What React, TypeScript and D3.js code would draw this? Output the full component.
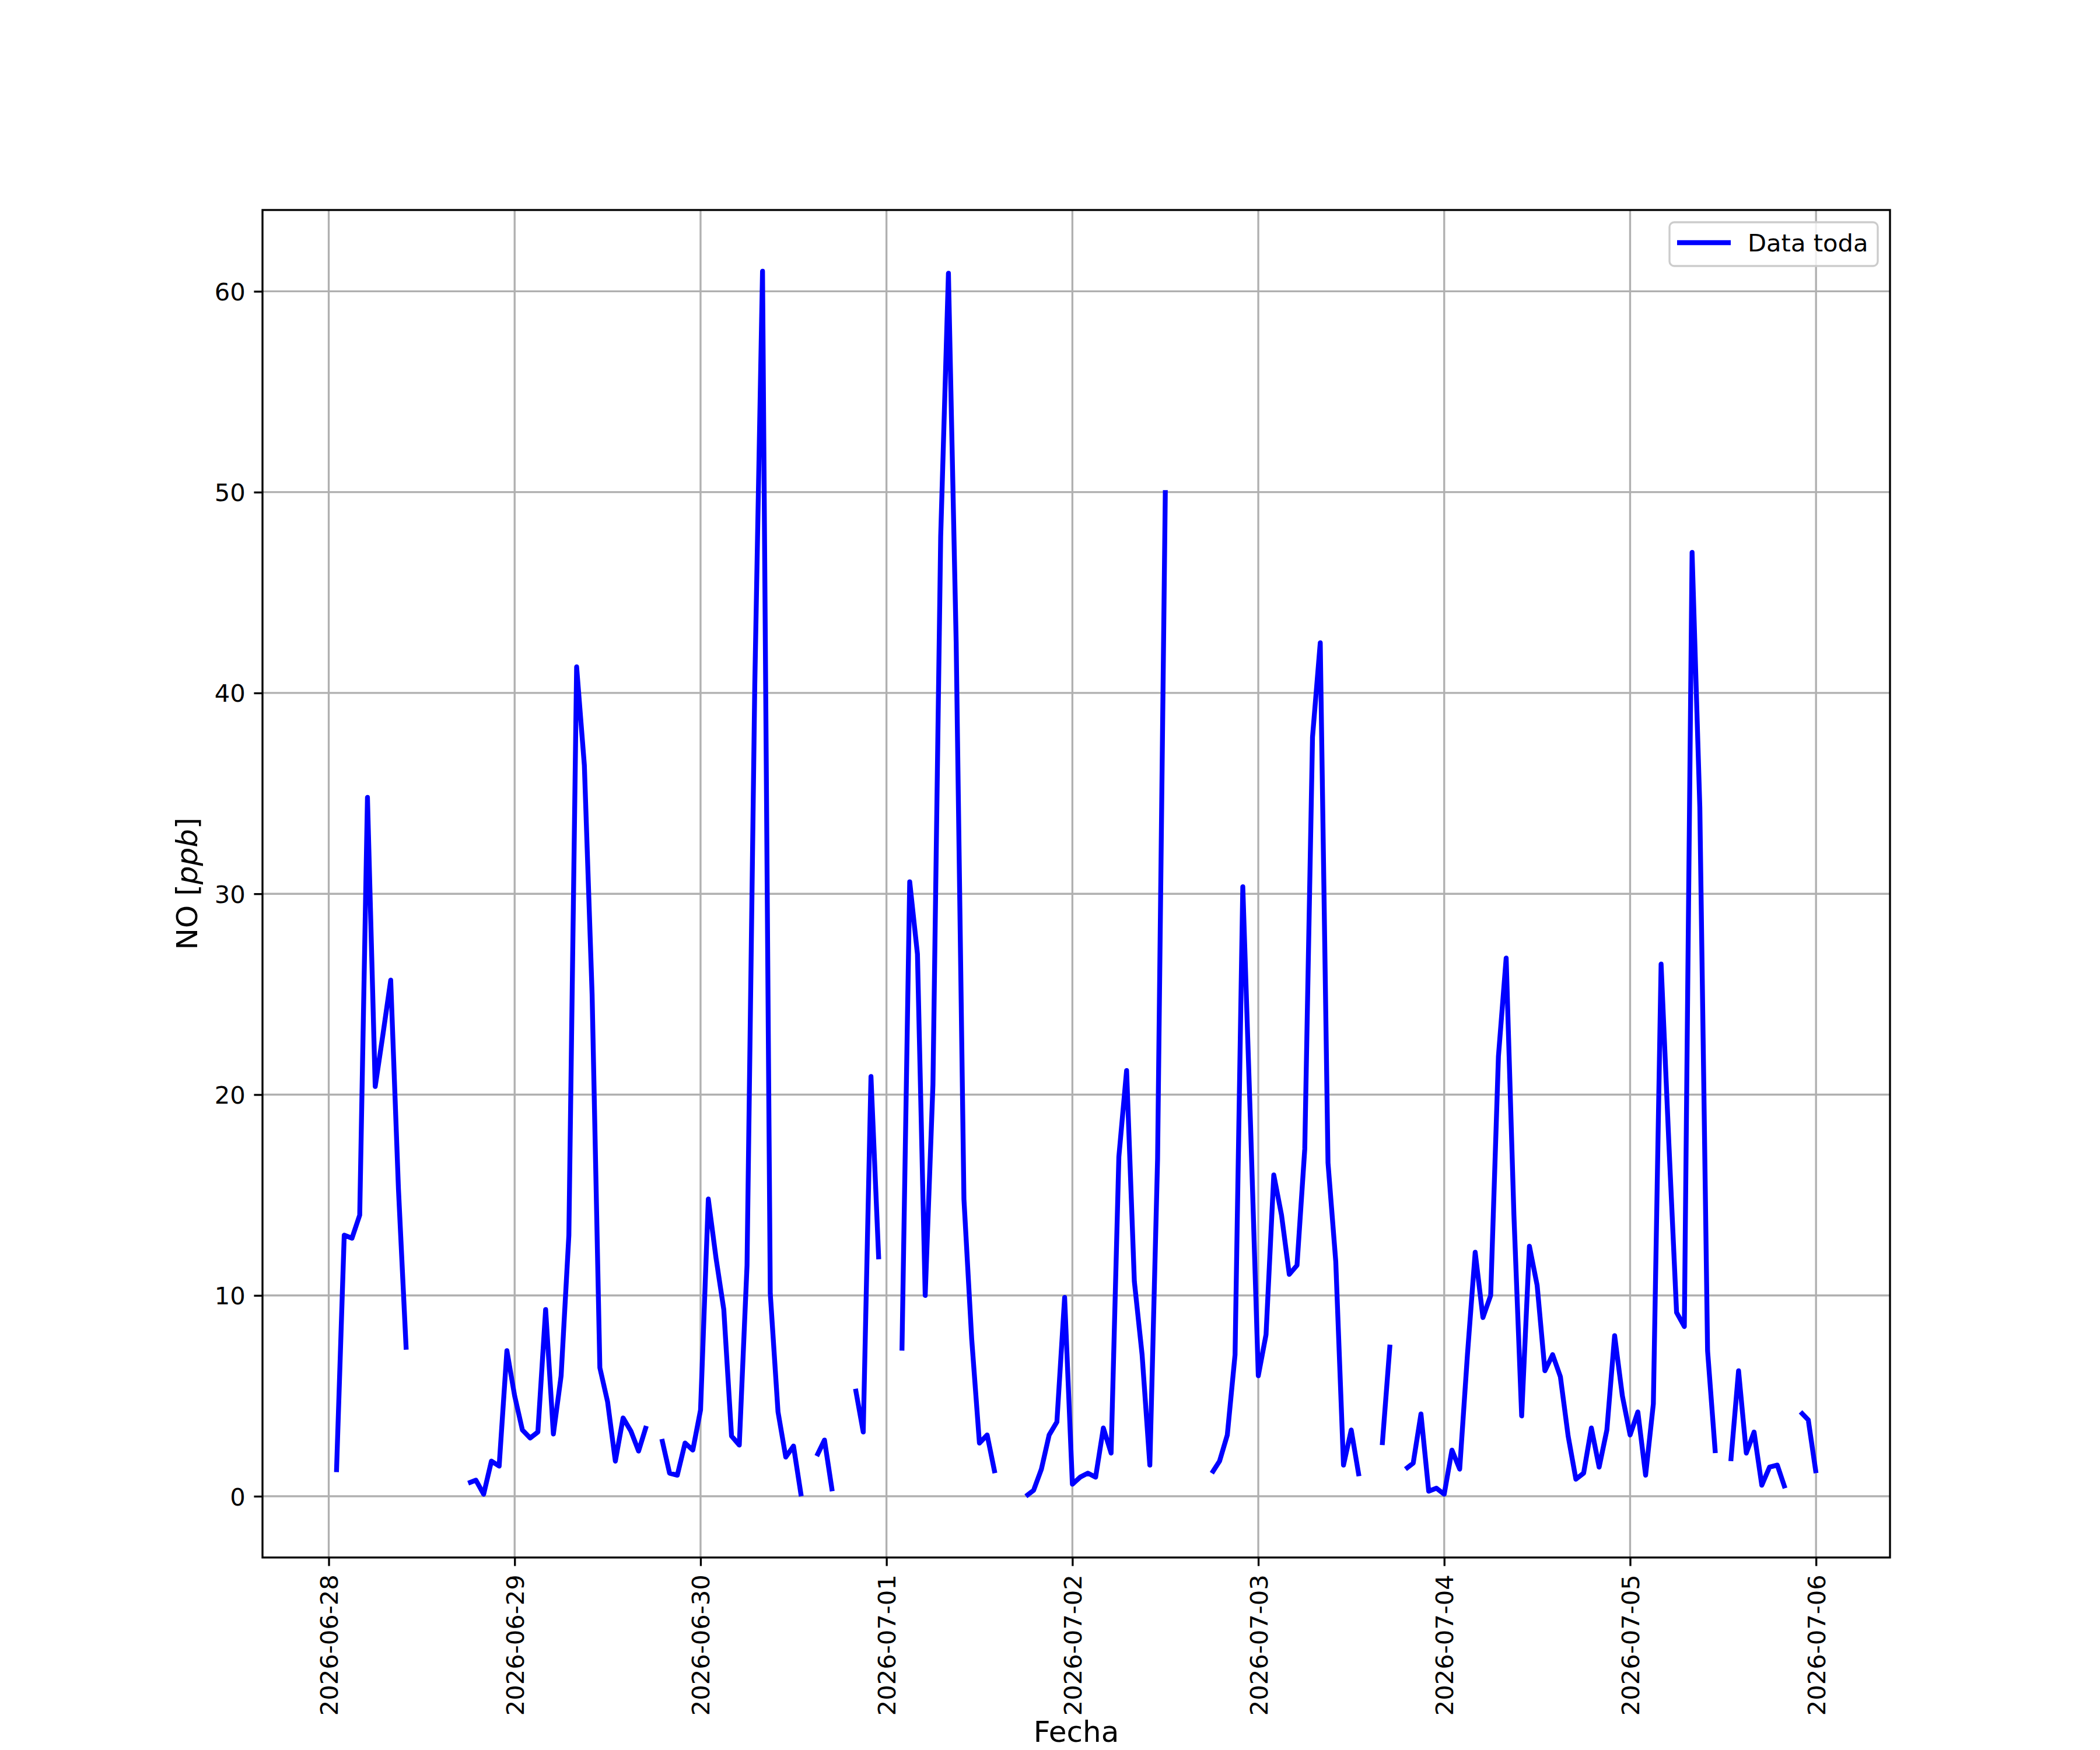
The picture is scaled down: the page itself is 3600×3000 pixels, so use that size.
import React, { useEffect, useRef } from "react";
import * as d3 from "d3";

// hourly NO readings, first one at 2026-06-28 01:00 (null = missing hour)
const firstReading = Date.UTC(2026, 5, 28, 1);

const no28Jun: (number | null)[] = [
    1.2, 13.0, 12.85, 14.0, 34.8, 20.4, 23.0, 25.7, 15.3, 7.3,
    null, null, null, null, null, null, null,
    0.65, 0.8, 0.1, 1.75, 1.5, 7.25,
];
const no29Jun: (number | null)[] = [
    5.0, 3.3, 2.9, 3.2, 9.3, 3.1, 6.0, 13.0, 41.3, 36.4, 25.0, 6.4,
    4.7, 1.75, 3.9, 3.25, 2.25, 3.5, null, 2.85, 1.15, 1.05, 2.65, 2.3,
];
const no30Jun: (number | null)[] = [
    4.3, 14.8, 11.85, 9.3, 3.0, 2.55, 11.5, 40.4, 61.0, 10.1, 4.2, 1.95,
    2.5, 0.0, null, 2.0, 2.8, 0.25, null, null, 5.35, 3.2, 20.9, 11.8,
];
const no01Jul: (number | null)[] = [
    null, null, 7.25, 30.6, 27.0, 10.0, 20.5, 47.8, 60.9, 42.5, 14.8, 7.85,
    2.65, 3.05, 1.15, null, null, null, 0.0, 0.3, 1.35, 3.05, 3.7, 9.9,
];
const no02Jul: (number | null)[] = [
    0.6, 0.95, 1.15, 0.95, 3.4, 2.15, 16.9, 21.2, 10.7, 7.05, 1.55, 16.8,
    50.1, null, null, null, null, null, 1.15, 1.75, 3.05, 7.05, 30.35, 18.5,
];
const no03Jul: (number | null)[] = [
    6.0, 8.05, 16.0, 14.0, 11.05, 11.5, 17.3, 37.8, 42.5, 16.6, 11.7, 1.55,
    3.3, 1.0, null, null, 2.55, 7.55, null, 1.35, 1.65, 4.1, 0.25, 0.4,
];
const no04Jul: (number | null)[] = [
    0.1, 2.3, 1.35, 7.05, 12.15, 8.9, 10.0, 21.9, 26.8, 14.0, 4.0, 12.45,
    10.5, 6.25, 7.05, 5.95, 3.0, 0.85, 1.15, 3.4, 1.45, 3.3, 8.0, 5.0,
];
const no05Jul: (number | null)[] = [
    3.05, 4.2, 1.05, 4.6, 26.5, 17.6, 9.15, 8.45, 47.0, 34.3, 7.25, 2.15,
    null, 1.75, 6.25, 2.15, 3.2, 0.55, 1.45, 1.55, 0.4, null, 4.2, 3.8,
];
const no06Jul: (number | null)[] = [1.15];

const xTickLabels = [
    "2026-06-28", "2026-06-29", "2026-06-30", "2026-07-01", "2026-07-02",
    "2026-07-03", "2026-07-04", "2026-07-05", "2026-07-06",
];
const yTicks = [0, 10, 20, 30, 40, 50, 60];

const seriesName = "Data toda";
const xLabel = "Fecha";

interface Reading {
    t: Date;
    v: number | null;
}

const PT = 300 / 72; // figure is 12x10 in at 300 dpi
const FONT = "'DejaVu Sans', sans-serif";

const App: React.FC = () => {
    const svgRef = useRef<SVGSVGElement>(null);

    useEffect(() => {
        if (!svgRef.current) return;

        const width = 3600;
        const height = 3000;
        const margin = { top: 360, right: 360, bottom: 330, left: 450 };
        const x0 = margin.left;
        const x1 = width - margin.right;
        const y0 = height - margin.bottom;
        const y1 = margin.top;

        const svg = d3.select(svgRef.current);
        svg.selectAll("*").remove();

        svg.append("rect")
            .attr("width", width)
            .attr("height", height)
            .attr("fill", "#ffffff");

        const values = [
            ...no28Jun, ...no29Jun, ...no30Jun, ...no01Jul, ...no02Jul,
            ...no03Jul, ...no04Jul, ...no05Jul, ...no06Jul,
        ];
        const data: Reading[] = values.map((v, i) => ({
            t: new Date(firstReading + i * 3600 * 1000),
            v,
        }));

        // matplotlib style 5% margins
        const tMin = data[0].t.getTime();
        const tMax = data[data.length - 1].t.getTime();
        const tSpan = tMax - tMin;
        const x = d3.scaleUtc()
            .domain([new Date(tMin - 0.05 * tSpan), new Date(tMax + 0.05 * tSpan)])
            .range([x0, x1]);

        const valid = data.filter(d => d.v != null).map(d => d.v as number);
        const vMin = d3.min(valid) ?? 0;
        const vMax = d3.max(valid) ?? 1;
        const vSpan = vMax - vMin;
        const y = d3.scaleLinear()
            .domain([vMin - 0.05 * vSpan, vMax + 0.05 * vSpan])
            .range([y0, y1]);

        const parseDay = d3.utcParse("%Y-%m-%d");
        const dayTicks = xTickLabels.map(s => parseDay(s) as Date);

        // grid
        const grid = svg.append("g").attr("class", "grid");
        grid.selectAll(".vgrid")
            .data(dayTicks)
            .enter()
            .append("line")
            .attr("x1", d => x(d))
            .attr("x2", d => x(d))
            .attr("y1", y0)
            .attr("y2", y1)
            .attr("stroke", "#b0b0b0")
            .attr("stroke-width", 0.8 * PT);
        grid.selectAll(".hgrid")
            .data(yTicks)
            .enter()
            .append("line")
            .attr("x1", x0)
            .attr("x2", x1)
            .attr("y1", d => y(d))
            .attr("y2", d => y(d))
            .attr("stroke", "#b0b0b0")
            .attr("stroke-width", 0.8 * PT);

        // the series
        const line = d3.line<Reading>()
            .defined(d => d.v != null)
            .x(d => x(d.t))
            .y(d => y(d.v as number));

        svg.append("path")
            .datum(data)
            .attr("d", line)
            .attr("fill", "none")
            .attr("stroke", "#0000ff")
            .attr("stroke-width", 2 * PT)
            .attr("stroke-linejoin", "round")
            .attr("stroke-linecap", "butt");

        // spines
        svg.append("rect")
            .attr("x", x0)
            .attr("y", y1)
            .attr("width", x1 - x0)
            .attr("height", y0 - y1)
            .attr("fill", "none")
            .attr("stroke", "#000000")
            .attr("stroke-width", 0.8 * PT);

        const tickLen = 3.5 * PT;
        const tickPad = 3.5 * PT;
        const fmt = d3.utcFormat("%Y-%m-%d");

        const xAxis = svg.append("g")
            .attr("transform", `translate(0,${y0})`)
            .call(d3.axisBottom(x).tickValues(dayTicks).tickFormat(d => fmt(d as Date)).tickSize(tickLen));
        xAxis.select(".domain").remove();
        xAxis.selectAll(".tick line")
            .attr("stroke", "#000000")
            .attr("stroke-width", 0.8 * PT);
        xAxis.selectAll(".tick text")
            .attr("transform", "rotate(-90)")
            .attr("x", -(tickLen + tickPad))
            .attr("y", 0)
            .attr("dy", "0.36em")
            .style("text-anchor", "end")
            .attr("fill", "#000000")
            .attr("font-size", 10 * PT)
            .attr("font-family", FONT);

        const yAxis = svg.append("g")
            .attr("transform", `translate(${x0},0)`)
            .call(d3.axisLeft(y).tickValues(yTicks).tickFormat(d3.format("d")).tickSize(tickLen).tickPadding(tickPad));
        yAxis.select(".domain").remove();
        yAxis.selectAll(".tick line")
            .attr("stroke", "#000000")
            .attr("stroke-width", 0.8 * PT);
        yAxis.selectAll(".tick text")
            .attr("dy", "0.36em")
            .attr("fill", "#000000")
            .attr("font-size", 10 * PT)
            .attr("font-family", FONT);

        // axis labels
        svg.append("text")
            .attr("x", (x0 + x1) / 2)
            .attr("y", 2986)
            .attr("text-anchor", "middle")
            .attr("font-size", 12 * PT)
            .attr("font-family", FONT)
            .text(xLabel);

        const yLab = svg.append("text")
            .attr("transform", `translate(338,${(y0 + y1) / 2}) rotate(-90)`)
            .attr("text-anchor", "middle")
            .attr("font-size", 12 * PT)
            .attr("font-family", FONT);
        yLab.append("tspan").text("NO [");
        yLab.append("tspan").attr("font-style", "italic").text("ppb");
        yLab.append("tspan").text("]");

        // legend
        const legend = svg.append("g").attr("class", "legend");
        legend.append("rect")
            .attr("x", 2862)
            .attr("y", 381)
            .attr("width", 357)
            .attr("height", 75)
            .attr("rx", 8)
            .attr("fill", "#ffffff")
            .attr("fill-opacity", 0.8)
            .attr("stroke", "#cccccc")
            .attr("stroke-width", 0.8 * PT);
        legend.append("line")
            .attr("x1", 2875)
            .attr("x2", 2967)
            .attr("y1", 416)
            .attr("y2", 416)
            .attr("stroke", "#0000ff")
            .attr("stroke-width", 2 * PT);
        legend.append("text")
            .attr("x", 2996)
            .attr("y", 431)
            .attr("font-size", 10 * PT)
            .attr("font-family", FONT)
            .text(seriesName);
    }, []);

    return (
        <svg
            ref={svgRef}
            width={3600}
            height={3000}
            style={{ position: "absolute", left: 0, top: 0, display: "block" }}
        />
    );
};

export default App;
